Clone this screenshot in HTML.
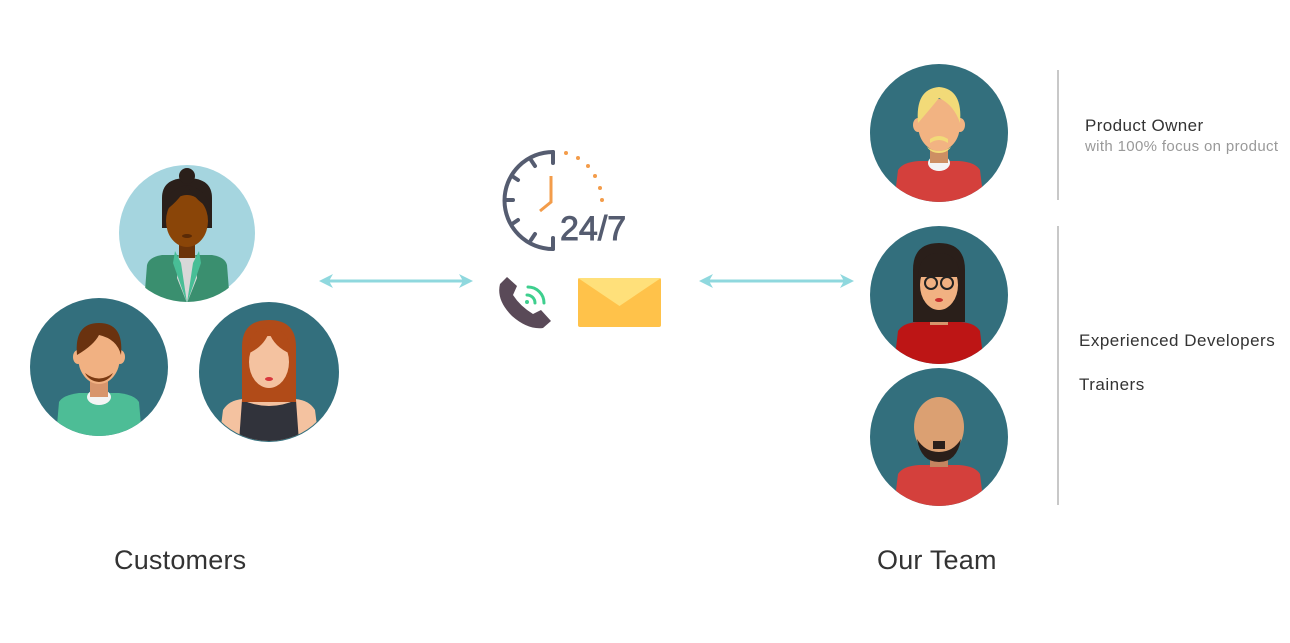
<!DOCTYPE html>
<html><head><meta charset="utf-8"><style>
html,body{margin:0;padding:0;background:#fff;}
body{width:1290px;height:643px;overflow:hidden;position:relative;font-family:"Liberation Sans",sans-serif;}
.t{position:absolute;white-space:nowrap;color:#333;}
</style></head><body>
<svg width="1290" height="643" style="position:absolute;left:0;top:0">
<defs>
<clipPath id="c"><circle cx="0" cy="0" r="69"/></clipPath>
<marker id="ah" markerWidth="14" markerHeight="14" refX="11" refY="7" orient="auto-start-reverse" markerUnits="userSpaceOnUse"><path d="M0,0 L14,7 L0,14 L4,7 Z" fill="#8fd8de"/></marker>
</defs>

<g transform="translate(187,233)">
<circle r="68" fill="#a5d5df"/>
<g clip-path="url(#c)">
<path d="M-43,70 L-40,32 Q-38,24 -25,22 L25,22 Q38,24 40,32 L43,70 Z" fill="#3a8f6f"/>
<path d="M-8,20 L8,20 L10,45 L0,70 L-10,45 Z" fill="#d8d8d8"/>
<path d="M-12,18 L-6,30 L0,70 L-14,30 Z M12,18 L6,30 L0,70 L14,30 Z" fill="#48be96"/>
<rect x="-8" y="5" width="16" height="20" fill="#6b3309"/>
<path d="M-25,-35 Q-25,-55 0,-55 Q25,-55 25,-35 L25,-5 L-25,-5 Z" fill="#2a1f1a"/>
<circle cx="0" cy="-57" r="8" fill="#2a1f1a"/>
<ellipse cx="0" cy="-12" rx="21" ry="26" fill="#8a4508"/>
<path d="M-24,-25 Q-18,-45 0,-48 Q-5,-35 -22,-22 Z M0,-48 Q18,-45 24,-25 Q10,-30 0,-48Z" fill="#2a1f1a"/>
<ellipse cx="0" cy="3" rx="5" ry="2" fill="#5a2a06"/>
</g></g>

<g transform="translate(99,367)">
<circle r="69" fill="#336f7d"/>
<g clip-path="url(#c)">
<path d="M-43,70 L-40,35 Q-36,28 -20,26 L20,26 Q36,28 40,35 L43,70 Z" fill="#4dbd96"/>
<ellipse cx="0" cy="30" rx="12" ry="8" fill="#f4f4f4"/>
<rect x="-9" y="8" width="18" height="22" fill="#d8956c"/>
<ellipse cx="-21" cy="-10" rx="5" ry="7" fill="#f1b182"/>
<ellipse cx="21" cy="-10" rx="5" ry="7" fill="#f1b182"/>
<ellipse cx="0" cy="-10" rx="21" ry="27" fill="#f1b182"/>
<path d="M-22,-12 Q-25,-44 0,-44 Q25,-44 22,-12 Q18,-28 0,-32 Q-5,-22 -22,-12Z" fill="#6a320f"/>
<path d="M-14,6 Q0,17 14,6 Q10,14 0,15 Q-10,14 -14,6Z" fill="#7a3a12"/>
</g></g>

<g transform="translate(269,372)">
<circle r="70" fill="#336f7d"/>
<g clip-path="url(#c)">
<path d="M-50,70 L-46,38 Q-40,28 -26,27 L26,27 Q40,28 46,38 L50,70 Z" fill="#f4c2a0"/>
<path d="M-30,70 L-27,28 Q0,40 27,28 L30,70Z" fill="#31333b"/>
<rect x="-9" y="10" width="18" height="20" fill="#e6a985"/>
<path d="M-27,-25 Q-27,-52 0,-52 Q27,-52 27,-25 L27,30 L-27,30Z" fill="#b14b18"/>
<ellipse cx="0" cy="-10" rx="20" ry="26" fill="#f4c2a0"/>
<path d="M-22,-18 Q-20,-44 0,-44 Q20,-44 22,-18 Q5,-25 0,-40 Q-5,-25 -22,-18Z" fill="#b14b18"/>
<ellipse cx="0" cy="7" rx="4" ry="2" fill="#d8363c"/>
</g></g>

<g transform="translate(939,133)">
<circle r="69" fill="#336f7d"/>
<g clip-path="url(#c)">
<path d="M-45,70 L-41,37 Q-36,29 -20,28 L20,28 Q36,29 41,37 L45,70 Z" fill="#d4403c"/>
<ellipse cx="0" cy="30" rx="11" ry="8" fill="#f4f4f4"/>
<rect x="-9" y="10" width="18" height="20" fill="#cd8f63"/>
<ellipse cx="-21" cy="-8" rx="5" ry="7" fill="#f2b382"/>
<ellipse cx="21" cy="-8" rx="5" ry="7" fill="#f2b382"/>
<ellipse cx="0" cy="-8" rx="21" ry="26" fill="#f2b382"/>
<path d="M-21,-10 Q-24,-44 0,-46 Q24,-44 21,-10 Q15,-28 0,-35 Q-8,-25 -21,-10Z" fill="#f2da78"/>
<path d="M-9,6 Q0,0 9,6 L9,10 Q0,4 -9,10Z M-12,14 Q0,22 12,14 Q8,20 0,20 Q-8,20 -12,14Z" fill="#f2da78"/>
</g></g>

<g transform="translate(939,295)">
<circle r="69" fill="#336f7d"/>
<g clip-path="url(#c)">
<path d="M-45,70 L-41,36 Q-36,28 -22,27 L22,27 Q36,28 41,36 L45,70 Z" fill="#bd1515"/>
<rect x="-9" y="8" width="18" height="22" fill="#d8956c"/>
<path d="M-26,-25 Q-26,-52 0,-52 Q26,-52 26,-25 L26,27 L-26,27Z" fill="#2a1f1a"/>
<ellipse cx="0" cy="-10" rx="19" ry="25" fill="#f1b182"/>
<path d="M-21,-18 Q-20,-42 0,-42 Q20,-42 21,-18 L-21,-18Z" fill="#2a1f1a"/>
<circle cx="-8" cy="-12" r="6" fill="none" stroke="#222" stroke-width="2"/>
<circle cx="8" cy="-12" r="6" fill="none" stroke="#222" stroke-width="2"/>
<ellipse cx="0" cy="5" rx="4" ry="2" fill="#c8302f"/>
</g></g>

<g transform="translate(939,437)">
<circle r="69" fill="#336f7d"/>
<g clip-path="url(#c)">
<path d="M-45,70 L-41,37 Q-36,29 -20,28 L20,28 Q36,29 41,37 L45,70 Z" fill="#d4403c"/>
<rect x="-9" y="10" width="18" height="20" fill="#c48560"/>
<ellipse cx="0" cy="-10" rx="25" ry="30" fill="#dba072"/>
<path d="M-22,2 Q-18,25 0,25 Q18,25 22,2 Q14,15 0,15 Q-14,15 -22,2Z M-6,4 L6,4 L6,12 L-6,12Z" fill="#2a1f1a"/>
</g></g>

<line x1="322" y1="281" x2="470" y2="281" stroke="#8fd8de" stroke-width="3" marker-start="url(#ah)" marker-end="url(#ah)"/>
<line x1="702" y1="281" x2="851" y2="281" stroke="#8fd8de" stroke-width="3" marker-start="url(#ah)" marker-end="url(#ah)"/>

<g fill="none" stroke="#555c70" stroke-width="4" stroke-linecap="round">
<path d="M553,152 A48,48 0 0 0 553,249"/>
<line x1="553" y1="152" x2="553" y2="163"/>
<line x1="553" y1="238" x2="553" y2="249"/>
<line x1="531" y1="160" x2="535" y2="166"/>
<line x1="512" y1="176" x2="518" y2="180"/>
<line x1="506" y1="200" x2="513" y2="200"/>
<line x1="512" y1="224" x2="518" y2="220"/>
<line x1="531" y1="240" x2="535" y2="234"/>
</g>
<path d="M551,176 L551,202 L540,211" fill="none" stroke="#f39c4a" stroke-width="3"/>
<g fill="#f39c4a"><circle cx="566" cy="153" r="2"/><circle cx="578" cy="158" r="2"/><circle cx="588" cy="166" r="2"/><circle cx="595" cy="176" r="2"/><circle cx="600" cy="188" r="2"/><circle cx="602" cy="200" r="2"/></g>
<text x="560" y="240" font-family="Liberation Sans,sans-serif" font-size="34" fill="#555c70" stroke="#555c70" stroke-width="0.9">24/7</text>

<path d="M500,284 Q496,300 512,316 Q528,330 543,328 L551,321 L541,310 L533,314 Q520,306 513,295 L517,286 L507,277 Z" fill="#5a4a58"/>
<g fill="none" stroke="#3ecf8e" stroke-width="3" stroke-linecap="round"><path d="M527,295 A8,8 0 0 1 535,303"/><path d="M528,287 A16,16 0 0 1 544,303"/></g>
<circle cx="527" cy="302" r="2" fill="#3ecf8e"/>
<rect x="578" y="278" width="83" height="49" rx="2" fill="#ffc24a"/>
<path d="M578,278 L661,278 L619.5,306 Z" fill="#ffe07a"/>

<line x1="1058" y1="70" x2="1058" y2="200" stroke="#c8c8c8" stroke-width="2"/>
<line x1="1058" y1="226" x2="1058" y2="505" stroke="#c8c8c8" stroke-width="2"/>
</svg>
<div class="t" style="left:114px;top:545px;font-size:27px;letter-spacing:0.2px">Customers</div>
<div class="t" style="left:877px;top:545px;font-size:27px;letter-spacing:0.2px">Our Team</div>
<div class="t" style="left:1085px;top:116px;font-size:17px;letter-spacing:0.4px">Product Owner</div>
<div class="t" style="left:1085px;top:138px;font-size:15px;color:#999;letter-spacing:0.35px">with 100% focus on product</div>
<div class="t" style="left:1079px;top:331px;font-size:17px;letter-spacing:0.5px">Experienced Developers</div>
<div class="t" style="left:1079px;top:375px;font-size:17px;letter-spacing:0.5px">Trainers</div>
</body></html>
